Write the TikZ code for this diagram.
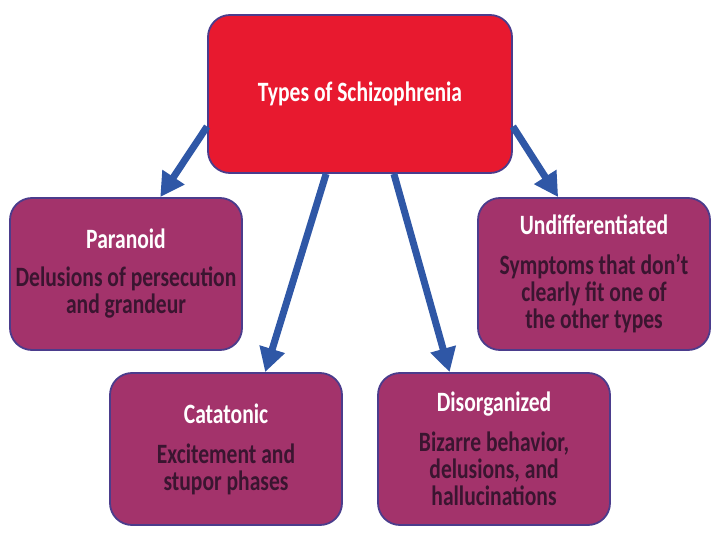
\documentclass[tikz,border=0pt]{standalone}
\usepackage{fontspec}
\setmainfont{Carlito}[FakeStretch=0.77]
\usepackage{tikz}
\usetikzlibrary{arrows.meta}

\definecolor{topred}{HTML}{E8192F}
\definecolor{typeplum}{HTML}{A3336B}
\definecolor{edgeblue}{HTML}{4B3C8C}
\definecolor{arrowblue}{HTML}{2F57A6}
\definecolor{bodytext}{HTML}{3A1530}

\begin{document}
\begin{tikzpicture}[x=1pt,y=-1pt,
  typebox/.style={draw=edgeblue,line width=1.8pt,rounded corners=22pt,fill=typeplum,
    minimum width=232pt,minimum height=152pt,align=center,text=bodytext,
    font=\bfseries\fontsize{28}{27}\selectfont},
  headbox/.style={draw=edgeblue,line width=1.8pt,rounded corners=22pt,fill=topred,
    minimum width=304pt,minimum height=158pt,text=white,
    font=\bfseries\fontsize{28}{27}\selectfont},
  link/.style={arrowblue,line width=7pt,-{Triangle[length=24pt,width=25pt]}}]
\useasboundingbox (0,0) rectangle (720,540);
\node[headbox] (types) at (360,94) {Types of Schizophrenia};
\node[typebox] (paranoid) at (126,274) {\textcolor{white}{Paranoid}\\[11pt]Delusions of persecution\\and grandeur};
\node[typebox] (undiff) at (594,274) {\textcolor{white}{Undifferentiated}\\[13pt]Symptoms that don't\\clearly fit one of\\the other types};
\node[typebox] (catatonic) at (226,449) {\textcolor{white}{Catatonic}\\[13pt]Excitement and\\stupor phases};
\node[typebox] (disorg) at (494,449) {\textcolor{white}{Disorganized}\\[13pt]Bizarre behavior,\\delusions, and\\hallucinations};

\foreach \a/\b in {192/paranoid.66, 247/catatonic.63, 293/disorg.120, 348/undiff.115}
  \draw[link] (types.\a) -- (\b);
\end{tikzpicture}
\end{document}
